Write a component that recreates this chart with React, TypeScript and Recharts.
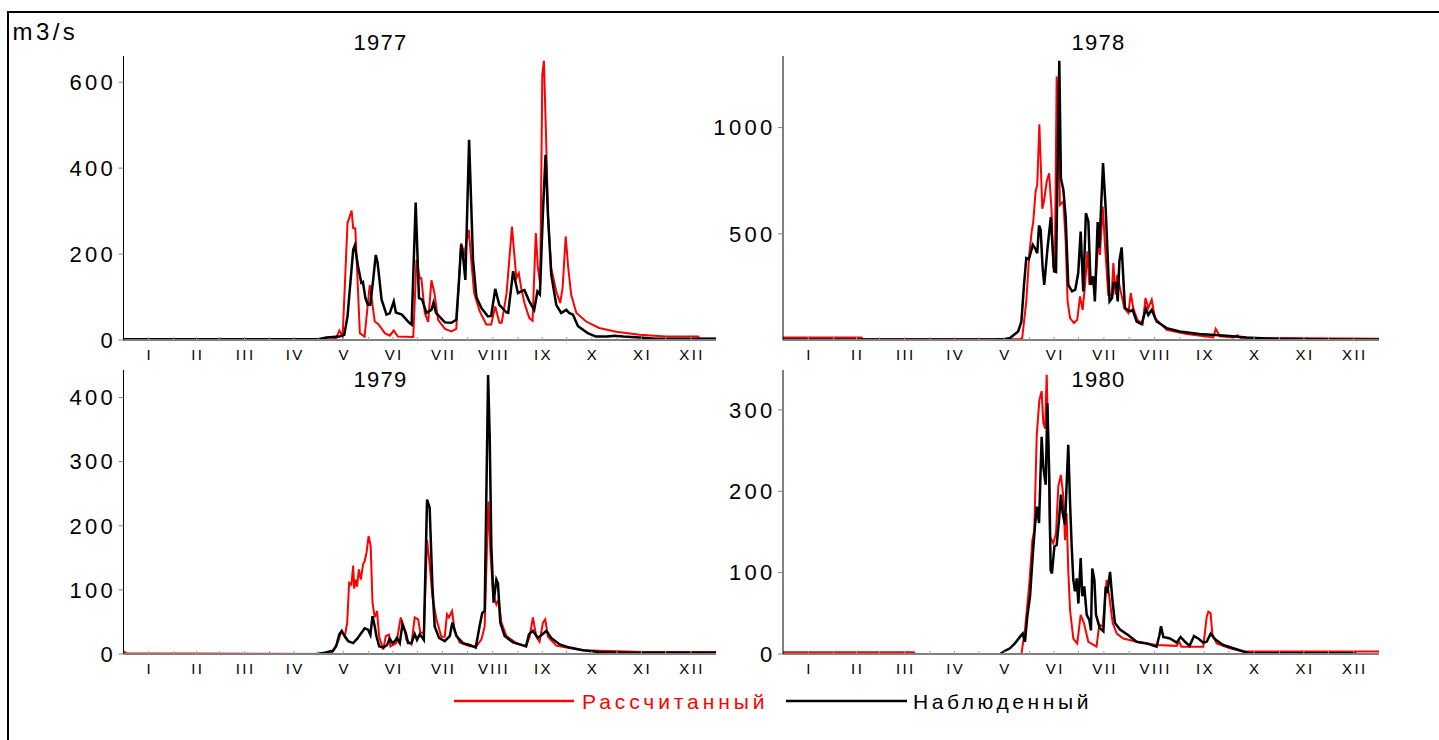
import React from 'react';
import { Line, LineChart, XAxis, YAxis } from 'recharts';

// [day of year, m3/s]
const calc1977: [number, number][] = [
  [0, 1], [128, 1], [131, 5], [133, 22], [135, 8], [138, 272], [140.5, 301], [141.5, 260], [142.8, 260],
  [145.6, 16], [148.5, 8], [151.7, 128], [154.8, 43], [157, 37], [161, 16], [164, 10], [166.5, 22], [169, 8],
  [178.5, 7], [180.5, 187], [182.5, 144], [183.5, 144], [185.6, 63], [187.7, 42], [189.7, 139], [191.5, 110],
  [193.8, 47], [198, 26], [202, 20], [205, 26], [208, 225], [210, 202], [212.8, 256], [214, 195], [216, 109],
  [219.4, 67], [223.5, 36], [226.5, 36], [229, 78], [231.6, 40], [233, 40], [236, 109], [239.3, 264],
  [242, 144], [243.5, 156], [245, 121], [247, 86], [250, 51], [252, 45], [254, 249], [255.3, 167],
  [256.7, 130], [258, 617], [259, 650], [260.5, 447], [261.5, 287], [263.5, 167], [266.6, 113], [269, 86],
  [270.5, 121], [272.4, 241], [274, 167], [275.8, 105], [279, 63], [285, 43], [293, 28], [303.5, 19],
  [318, 12], [334, 8], [354, 8], [355, 3], [365, 3],
];
const obs1977: [number, number][] = [
  [0, 2], [120, 2], [125, 6], [133, 8], [136, 12], [138, 55], [141.5, 210], [142.5, 220], [144.5, 171],
  [146.5, 133], [147.5, 135], [149, 98], [150.5, 82], [152, 82], [153.8, 140], [155.4, 198], [156.5, 181],
  [159, 94], [162, 59], [164, 62], [166.5, 90], [167.8, 64], [171.5, 59], [176, 40], [177.5, 36], [180, 320],
  [182, 98], [184, 94], [186.6, 63], [189.7, 70], [191, 87], [192.5, 63], [198, 41], [202, 40], [205, 47],
  [206.7, 140], [208, 222], [209, 202], [210.6, 140], [212.9, 466], [215.3, 187], [217.4, 100], [220.5, 74],
  [224.5, 55], [226.5, 56], [229, 119], [231.5, 82], [236, 64], [237, 63], [240, 160], [243, 109], [245, 113],
  [247, 116], [250, 90], [253, 70], [255, 113], [256.5, 106], [258.4, 299], [260, 431], [261.5, 291],
  [263.5, 152], [266.6, 82], [269.6, 63], [272.8, 70], [274.5, 63], [276.9, 59], [280, 32], [286, 16],
  [291, 8], [298, 8], [302.5, 10], [308, 8], [318, 6], [328, 3], [365, 3],
];

const calc1978: [number, number][] = [
  [0, 12], [48, 12], [49, 3], [145, 3], [146.5, 10], [149, 182], [150.8, 401], [152.3, 511], [153.2, 552],
  [154.7, 699], [155.7, 730], [157, 1016], [157.8, 840], [158.8, 618], [159.8, 652], [161.5, 746], [163, 785],
  [164.5, 605], [165.5, 339], [166.6, 433], [167.6, 1240], [168.6, 1060], [169.6, 636], [171.7, 652],
  [173.1, 464], [174.3, 182], [175.8, 103], [178.2, 80], [180.2, 95], [181.9, 205], [183.5, 142], [184.9, 252],
  [186.4, 417], [187.6, 260], [189.6, 299], [191, 205], [193, 464], [194.1, 401], [195.8, 628], [197.2, 448],
  [199.2, 213], [201.3, 213], [202.3, 362], [203.7, 213], [204.7, 307], [206.4, 244], [209, 150],
  [211.5, 127], [213, 221], [214.5, 150], [217, 95], [220.3, 75], [222, 198], [223.7, 150], [225.8, 190],
  [227.8, 103], [235, 48], [247.2, 28], [259.5, 17], [263.5, 12], [265, 53], [267.6, 17], [275.8, 12],
  [278.2, 22], [280, 10], [320, 8], [365, 6],
];
const obs1978: [number, number][] = [
  [0, 2], [130, 2], [136, 5], [139, 9], [144, 40], [146, 87], [147.6, 260], [149, 386], [150.6, 381],
  [153, 448], [154.3, 433], [155.7, 409], [156.8, 539], [157.8, 519], [159, 339], [160, 260], [162, 433],
  [164, 579], [165, 450], [166, 323], [167.2, 320], [169.2, 1314], [170.2, 762], [171.7, 707], [173.1, 580],
  [174.7, 260], [177, 229], [179, 237], [180.8, 315], [182.3, 511], [183.9, 229], [185.5, 597], [187, 558],
  [188.4, 260], [190, 299], [191, 182], [192.7, 555], [193.7, 433], [196, 833], [197.6, 621], [200, 182],
  [201.5, 198], [202.5, 268], [204, 268], [205, 182], [206, 370], [207.4, 436], [209.4, 150], [212.5, 135],
  [214.1, 142], [216.6, 87], [219.6, 75], [222.3, 147], [223.7, 118], [225.8, 142], [228.8, 87], [235, 56],
  [243, 40], [255, 28], [271.7, 20], [284, 12], [290, 10], [300, 6], [335, 2], [365, 2],
];

const calc1979: [number, number][] = [
  [0, 4], [2, 1], [128, 0], [132, 18], [134.3, 36], [136.3, 27], [137.8, 49], [139, 111], [140.4, 108],
  [141.5, 138], [142.1, 102], [143.1, 116], [143.9, 105], [145, 132], [146.2, 116], [147.6, 140],
  [148.6, 145], [149.7, 158], [151, 184], [152.3, 168], [153.4, 80], [154.8, 57], [156.2, 67], [157.5, 27],
  [160, 7], [161.6, 28], [163.6, 30], [164.4, 12], [168.1, 17], [170.8, 57], [172.7, 43], [174.3, 22],
  [177.4, 15], [179.4, 57], [181.5, 54], [182.9, 33], [185, 33], [187, 178], [188.6, 140], [190.3, 90],
  [192.8, 54], [195.8, 27], [197.9, 27], [199.3, 62], [200.5, 57], [202.4, 67], [204, 36], [207.1, 18],
  [213.3, 12], [217.4, 12], [220.5, 23], [222.5, 43], [224, 173], [224.8, 238], [226, 160], [227.6, 96],
  [229.7, 77], [231.1, 85], [232.8, 49], [235.9, 28], [242, 17], [248, 12], [250.2, 27], [252.2, 57],
  [254.3, 27], [256.3, 19], [258.4, 49], [259.8, 54], [261.5, 27], [266.6, 13], [272.8, 10], [283, 6],
  [293, 5], [310, 4], [320, 3], [365, 3],
];
const obs1979: [number, number][] = [
  [119, 0], [124, 2], [129, 5], [131, 12], [133, 31], [134.5, 36], [136.3, 28], [138.4, 20], [141.5, 17],
  [144, 24], [146.6, 33], [148.6, 40], [150.7, 38], [152.1, 30], [153.4, 59], [154.8, 43], [155.8, 28],
  [157.5, 12], [160, 10], [162.4, 14], [164, 24], [165.7, 17], [167.1, 20], [168.5, 25], [170.2, 17],
  [171.8, 46], [173.9, 33], [175.3, 17], [177.4, 17], [179.4, 31], [180.8, 22], [182.5, 31], [185, 22],
  [187, 241], [188.6, 228], [190.3, 106], [191.7, 43], [194.4, 25], [197.9, 20], [201, 28], [202.6, 49],
  [205.1, 28], [209.1, 17], [213.3, 14], [217, 10], [219.4, 44], [221, 64], [222.5, 67], [224.6, 435],
  [225.6, 339], [226.6, 168], [228, 80], [229.7, 116], [230.7, 110], [232.1, 49], [234.8, 28], [240, 18],
  [244, 15], [248, 12], [249.8, 31], [252.2, 36], [255.3, 25], [260.5, 36], [263.5, 25], [268.7, 15],
  [274.8, 10], [283, 6], [293, 3], [310, 2], [365, 2],
];

const calc1980: [number, number][] = [
  [0, 2], [80, 2], [81, 0], [146, 0], [148.2, 30], [150.9, 87], [152.7, 140], [153.9, 152], [155.4, 269],
  [157, 312], [158.4, 323], [159.4, 284], [160.5, 277], [161.5, 343], [162.5, 255], [163.5, 144],
  [165.5, 136], [167.2, 148], [168.6, 206], [170.2, 220], [171.7, 193], [172.7, 140], [173.7, 173],
  [174.7, 103], [175.8, 54], [177.8, 19], [180.2, 13], [182.3, 48], [184.3, 38], [187, 15], [192, 9],
  [193.7, 36], [195.8, 34], [198.2, 91], [199.8, 71], [201.9, 38], [204.4, 25], [208.4, 19], [216.6, 15],
  [228.8, 11], [241.1, 10], [242.7, 15], [244, 9], [257.4, 9], [259.5, 46], [260.5, 52], [261.9, 50],
  [262.9, 25], [265.6, 13], [273.7, 7], [282, 3], [290, 3], [365, 3],
];
const obs1980: [number, number][] = [
  [133, 0], [136, 4], [139, 7], [142, 13], [145.1, 21], [146.8, 25], [148.2, 15], [149.6, 46], [151.3, 71],
  [152.9, 120], [154.3, 157], [155.4, 181], [156.8, 161], [158.4, 267], [159.4, 230], [160.9, 208],
  [161.9, 308], [163.1, 217], [163.9, 103], [164.7, 99], [166.2, 132], [167.6, 134], [169, 164],
  [170.2, 196], [171.3, 173], [172.7, 159], [174.7, 257], [175.8, 185], [176.8, 132], [177.8, 91],
  [178.8, 77], [179.9, 93], [180.9, 62], [182.3, 118], [183.3, 71], [184.5, 83], [186, 48], [187.6, 42],
  [188.6, 29], [189.4, 105], [190.7, 91], [191.7, 48], [194, 32], [196.2, 28], [197.6, 83], [198.6, 75],
  [200.3, 101], [201.7, 67], [203.3, 38], [206.4, 30], [211.5, 23], [216.6, 15], [222.7, 13], [228.8, 9],
  [230.5, 23], [231.5, 34], [232.9, 21], [237, 19], [241.1, 14], [243.5, 21], [246.2, 15], [249, 10],
  [251.7, 22], [254.3, 19], [257.4, 14], [259.5, 15], [261.9, 25], [264.6, 18], [269.6, 11], [275.8, 7],
  [282, 3], [286, 1], [351, 1],
];

const monthLabels = ['I', 'II', 'III', 'IV', 'V', 'VI', 'VII', 'VIII', 'IX', 'X', 'XI', 'XII'];
const monthMid = [15.5, 45, 74.5, 105, 135.5, 166, 196.5, 227.5, 258, 288.5, 319, 349.5];
const monthStart = [31, 59, 90, 120, 151, 181, 212, 243, 273, 304, 334];

const xTicks = [...monthMid, ...monthStart].sort((a, b) => a - b);
const font = '"Liberation Sans", Arial, sans-serif';

const toRows = (pts: [number, number][]) => pts.map(([day, q]) => ({ day, q }));

function MonthTick(props: any) {
  const { x, y, payload } = props;
  const i = monthMid.indexOf(payload.value);
  return (
    <g>
      <line x1={x} x2={x} y1={y} y2={y - 3} stroke="#a0a0a0" strokeWidth={1} />
      {i >= 0 && (
        <text x={x + 1.2} y={y + 19.5} textAnchor="middle" fontSize={15} letterSpacing={2.4} fill="#000" fontFamily={font}>
          {monthLabels[i]}
        </text>
      )}
    </g>
  );
}

interface PanelProps {
  left: number;
  top: number;
  width: number;
  axisWidth: number;
  yMax: number;
  yTicks: number[];
  calc: [number, number][];
  obs: [number, number][];
}

function Panel({ left, top, width, axisWidth, yMax, yTicks, calc, obs }: PanelProps) {
  return (
    <div style={{ position: 'absolute', left, top }}>
      <LineChart width={width} height={330} margin={{ top: 16, right: 4, left: 0, bottom: 0 }}>
        <XAxis
          dataKey="day"
          type="number"
          domain={[0, 365]}
          ticks={xTicks}
          interval={0}
          tick={<MonthTick />}
          tickLine={false}
          tickSize={0}
          tickMargin={0}
          height={30}
          axisLine={{ stroke: '#808080', strokeWidth: 2 }}
        />
        <YAxis
          type="number"
          domain={[0, yMax]}
          ticks={yTicks}
          interval={0}
          width={axisWidth}
          tickSize={5}
          tickMargin={2.5}
          axisLine={{ stroke: '#000', strokeWidth: 1 }}
          tickLine={{ stroke: '#808080' }}
          tick={{ fontSize: 22, fill: '#000', fontFamily: font, letterSpacing: 3.3 }}
        />
        <Line
          data={toRows(calc)}
          dataKey="q"
          type="linear"
          stroke="#ff0000"
          strokeWidth={2}
          dot={false}
          isAnimationActive={false}
        />
        <Line
          data={toRows(obs)}
          dataKey="q"
          type="linear"
          stroke="#000000"
          strokeWidth={2.5}
          dot={false}
          isAnimationActive={false}
        />
      </LineChart>
    </div>
  );
}

export default function App() {
  return (
    <div
      style={{
        position: 'absolute',
        left: 0,
        top: 0,
        width: 1439,
        height: 740,
        background: '#fff',
        overflow: 'hidden',
        fontFamily: font,
      }}
    >
      <svg width={1439} height={740} style={{ position: 'absolute', left: 0, top: 0 }}>
        <line x1={7} x2={1439} y1={12} y2={12} stroke="#000" strokeWidth={2} />
        <line x1={8} x2={8} y1={11} y2={740} stroke="#000" strokeWidth={2} />
        <text x={12.5} y={39.5} fontSize={24} letterSpacing={3.4} fill="#000" fontFamily={font}>m3/s</text>
        <text x={380.6} y={49.5} fontSize={22} letterSpacing={1.3} textAnchor="middle" fill="#000" fontFamily={font}>1977</text>
        <text x={1098.6} y={49.5} fontSize={22} letterSpacing={1.3} textAnchor="middle" fill="#000" fontFamily={font}>1978</text>
        <text x={380.6} y={386.5} fontSize={22} letterSpacing={1.3} textAnchor="middle" fill="#000" fontFamily={font}>1979</text>
        <text x={1098.6} y={386.5} fontSize={22} letterSpacing={1.3} textAnchor="middle" fill="#000" fontFamily={font}>1980</text>
        <line x1={454} x2={574} y1={701} y2={701} stroke="#ff0000" strokeWidth={2.5} />
        <text x={582} y={709} fontSize={21} letterSpacing={3.9} fill="#ff0000" fontFamily={font}>Рассчитанный</text>
        <line x1={786} x2={907} y1={701} y2={701} stroke="#000" strokeWidth={2.5} />
        <text x={913} y={709} fontSize={21} letterSpacing={3.6} fill="#000" fontFamily={font}>Наблюденный</text>
      </svg>
      <Panel left={0} top={40} width={720} axisWidth={123.5} yMax={661} yTicks={[0, 200, 400, 600]} calc={calc1977} obs={obs1977} />
      <Panel left={700} top={40} width={683} axisWidth={83} yMax={1337} yTicks={[500, 1000]} calc={calc1978} obs={obs1978} />
      <Panel left={0} top={354} width={720} axisWidth={123.5} yMax={443} yTicks={[0, 100, 200, 300, 400]} calc={calc1979} obs={obs1979} />
      <Panel left={700} top={354} width={683} axisWidth={83} yMax={349} yTicks={[0, 100, 200, 300]} calc={calc1980} obs={obs1980} />
    </div>
  );
}
